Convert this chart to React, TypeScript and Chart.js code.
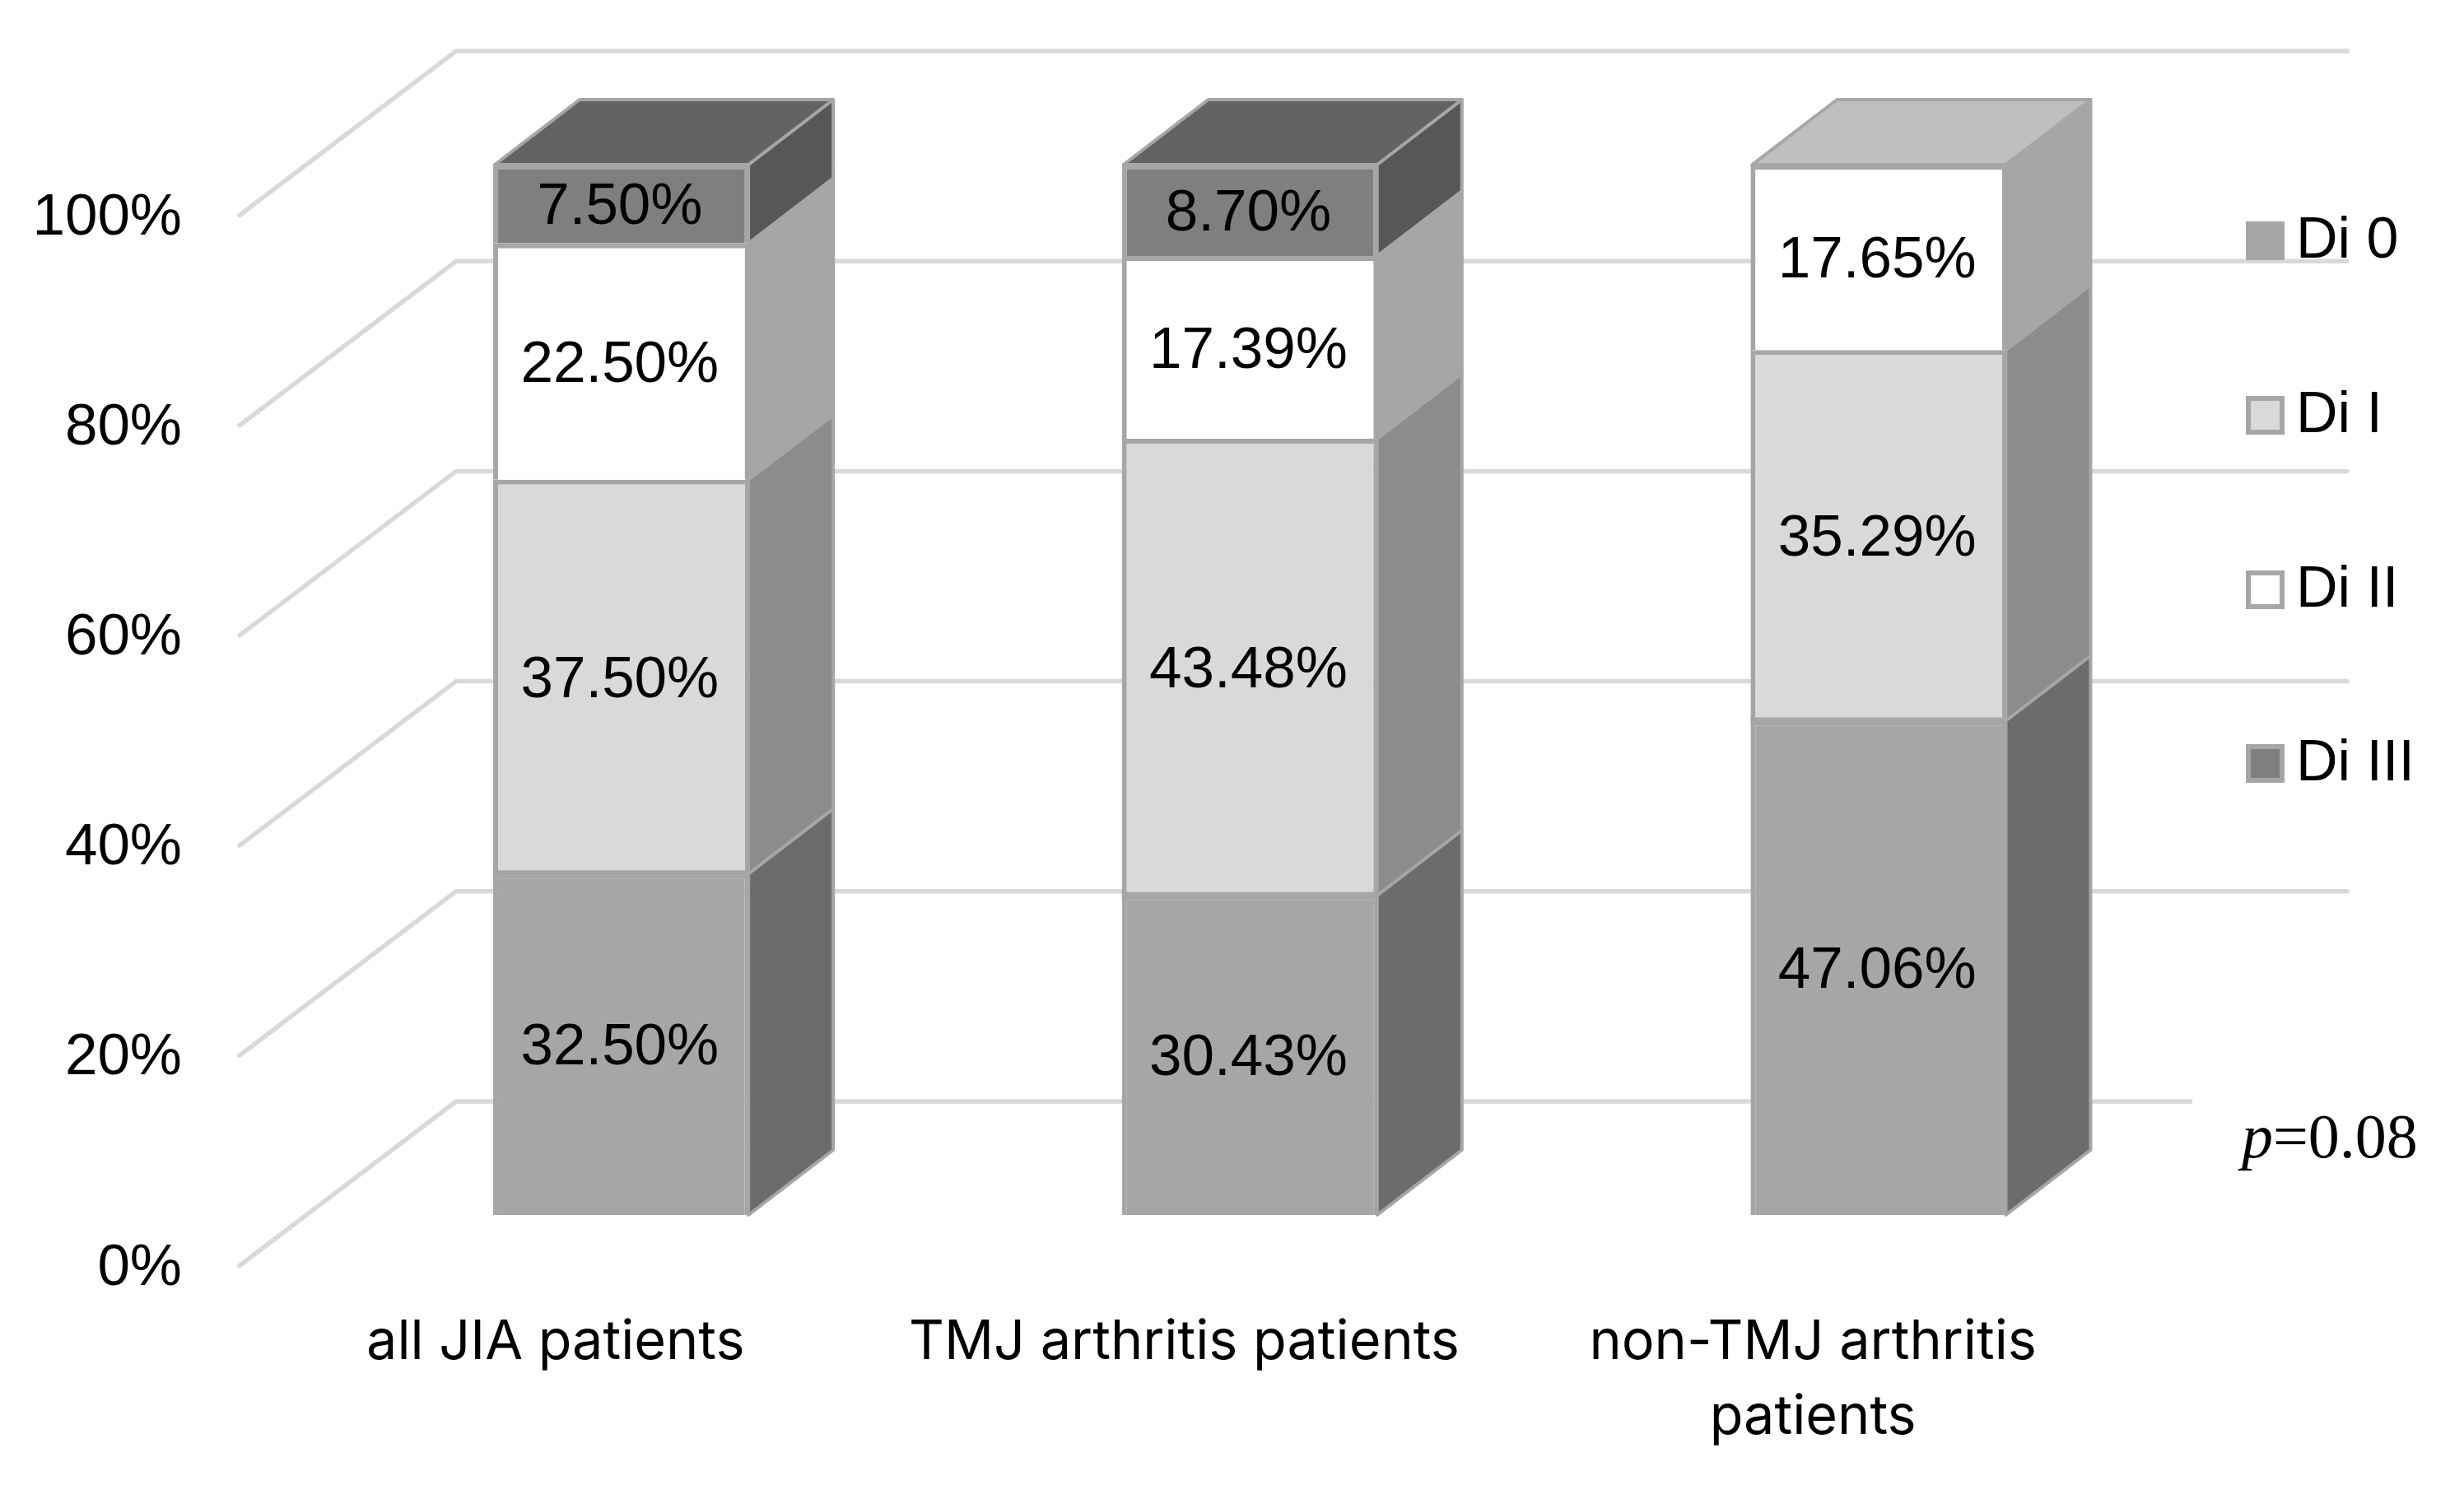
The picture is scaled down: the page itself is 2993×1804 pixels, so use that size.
import React, { useEffect, useRef } from "react";
import { Chart, registerables } from "chart.js";

Chart.register(...registerables);

const categories = [["all JIA patients"], ["TMJ arthritis patients"], ["non-TMJ arthritis", "patients"]];
const seriesNames = ["Di 0", "Di I", "Di II", "Di III"];
const di0 = [32.5, 30.43, 47.06];
const di1 = [37.5, 43.48, 35.29];
const di2 = [22.5, 17.39, 17.65];
const di3 = [7.5, 8.7, 0];
const frontColors = ["#a6a6a6", "#d9d9d9", "#ffffff", "#7f7f7f"];
const sideColors = ["#6c6c6c", "#8c8c8c", "#a6a6a6", "#575757"];
const topColors = ["#8a8a8a", "#b0b0b0", "#bfbfbf", "#636363"];
const yTicks = [0, 20, 40, 60, 80, 100];
const pValueItalic = "p";
const pValueRest = "=0.08";

const BORDER = "#a6a6a6";
const GRID = "#d9d9d9";
const UI_FONT = '"Liberation Sans", Arial, sans-serif';

const depthPlugin = {
  id: "depth",
  beforeDatasetsDraw(chart: any) {
    const { ctx, scales } = chart;
    const y = scales.y;
    ctx.save();
    // Walls: a slanted run on the left, a flat run on the back wall.
    ctx.strokeStyle = GRID;
    ctx.lineWidth = 5.5;
    ctx.lineCap = "round";
    ctx.lineJoin = "miter";
    yTicks.forEach((t) => {
      const p = y.getPixelForValue(t);
      ctx.beginPath();
      ctx.moveTo(291, p + 61.5);
      ctx.lineTo(554, p - 138);
      ctx.lineTo(2851, p - 138);
      ctx.stroke();
    });
    ctx.lineCap = "butt";
    // Side and top faces of each stacked bar.
    const dx = 103;
    const dy = -79;
    ctx.lineWidth = 4;
    ctx.lineJoin = "round";
    ctx.strokeStyle = BORDER;
    categories.forEach((_, i) => {
      let top: any = null;
      seriesNames.forEach((__, d) => {
        const el = chart.getDatasetMeta(d).data[i];
        const v = chart.data.datasets[d].data[i];
        if (!v) return;
        const r = el.x + el.width / 2 - 1.5;
        ctx.fillStyle = sideColors[d];
        ctx.beginPath();
        ctx.moveTo(r, el.base);
        ctx.lineTo(r + dx, el.base + dy);
        ctx.lineTo(r + dx, el.y + dy);
        ctx.lineTo(r, el.y);
        ctx.closePath();
        ctx.fill();
        ctx.stroke();
        top = { el, d };
      });
      if (top) {
        const { el, d } = top;
        const l = el.x - el.width / 2 + 2;
        const r = el.x + el.width / 2 - 1.5;
        ctx.fillStyle = topColors[d];
        ctx.beginPath();
        ctx.moveTo(l, el.y);
        ctx.lineTo(l + dx, el.y + dy);
        ctx.lineTo(r + dx, el.y + dy);
        ctx.lineTo(r, el.y);
        ctx.closePath();
        ctx.fill();
        ctx.stroke();
      }
    });
    ctx.restore();
  },
  afterDatasetsDraw(chart: any) {
    const { ctx } = chart;
    ctx.save();
    // The lowest segment's outline straddles its upper edge.
    ctx.fillStyle = BORDER;
    chart.getDatasetMeta(0).data.forEach((el: any) => {
      ctx.fillRect(el.x - el.width / 2, el.y - 4, el.width, 5);
    });
    // Value labels centred on the front faces.
    ctx.font = `71px ${UI_FONT}`;
    ctx.fillStyle = "#000";
    ctx.textAlign = "center";
    ctx.textBaseline = "middle";
    seriesNames.forEach((_, d) => {
      chart.getDatasetMeta(d).data.forEach((el: any, i: number) => {
        const v = chart.data.datasets[d].data[i];
        if (!v) return;
        ctx.fillText(v.toFixed(2) + "%", el.x - 2, (el.y + el.base) / 2 + 5);
      });
    });
    // Legend.
    const swatchX = 2728;
    const swatchTops = [269, 481, 693, 904];
    ctx.textAlign = "left";
    ctx.font = `70px ${UI_FONT}`;
    seriesNames.forEach((name, d) => {
      const yy = swatchTops[d];
      ctx.fillStyle = frontColors[d];
      ctx.strokeStyle = BORDER;
      ctx.lineWidth = 6;
      ctx.fillRect(swatchX + 3, yy + 3, 41, 41);
      ctx.strokeRect(swatchX + 3, yy + 3, 41, 41);
      ctx.fillStyle = "#000";
      ctx.fillText(name, 2789, yy + 25);
    });
    // p-value box.
    ctx.fillStyle = "#fff";
    ctx.fillRect(2663, 1300, 330, 150);
    ctx.fillStyle = "#000";
    ctx.textBaseline = "alphabetic";
    ctx.font = 'italic 76px "Liberation Serif", serif';
    ctx.fillText(pValueItalic, 2723, 1406);
    const w = ctx.measureText(pValueItalic).width;
    ctx.font = '76px "Liberation Serif", serif';
    ctx.fillText(pValueRest, 2723 + w, 1406);
    ctx.restore();
  },
};

export default function App() {
  const ref = useRef<HTMLCanvasElement>(null);
  useEffect(() => {
    const all = [di0, di1, di2, di3];
    const chart = new Chart(ref.current as HTMLCanvasElement, {
      type: "bar",
      data: {
        labels: categories as any,
        datasets: seriesNames.map((label, d) => ({
          label,
          data: all[d],
          backgroundColor: frontColors[d],
          borderColor: BORDER,
          borderWidth: 6,
          barPercentage: 0.408,
          categoryPercentage: 1,
        })),
      },
      options: {
        responsive: false,
        animation: false,
        devicePixelRatio: 1,
        layout: { padding: { left: 0, right: 329, top: 200, bottom: 0 } },
        plugins: { legend: { display: false }, tooltip: { enabled: false } },
        scales: {
          x: {
            stacked: true,
            grid: { display: false },
            border: { display: false },
            afterFit: (s: any) => { s.height = 328; },
            ticks: {
              autoSkip: false,
              maxRotation: 0,
              minRotation: 0,
              padding: 102,
              labelOffset: -80,
              color: "#000",
              font: { family: 'Inter, sans-serif', size: 66.5, lineHeight: 1.36 },
            },
          },
          y: {
            stacked: true,
            min: 0,
            max: 100,
            grid: { display: false },
            border: { display: false },
            afterFit: (s: any) => { s.width = 373; },
            ticks: {
              stepSize: 20,
              padding: 144,
              labelOffset: 65,
              color: "#000",
              font: { family: UI_FONT, size: 71 },
              callback: (v: any) => v + "%",
            },
          },
        },
      } as any,
      plugins: [depthPlugin],
    });
    return () => chart.destroy();
  }, []);
  return (
    <canvas
      ref={ref}
      width={2993}
      height={1804}
      style={{ position: "absolute", left: 0, top: 0, display: "block", width: 2993, height: 1804 }}
    />
  );
}
